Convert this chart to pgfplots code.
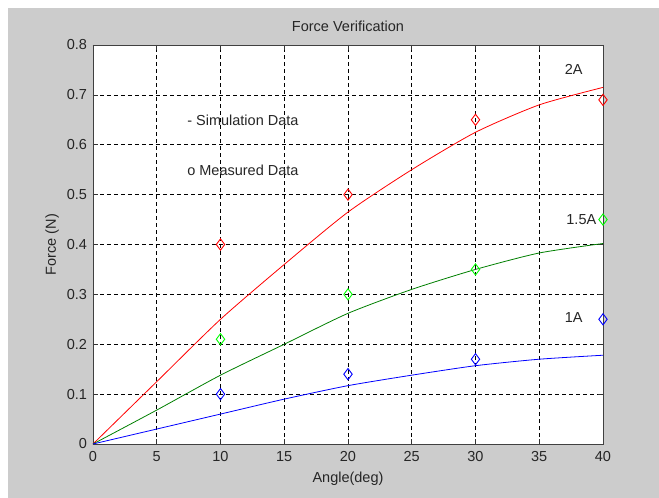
\documentclass[border=0pt]{standalone}
\usepackage{pgfplots}
\pgfplotsset{compat=1.18}
\usepackage{fontspec}
\setmainfont{Liberation Sans}
\definecolor{figgray}{HTML}{CCCCCC}
\definecolor{simgreen}{rgb}{0,0.5,0}
\definecolor{measgreen}{rgb}{0,1,0}

\begin{document}
\fontsize{14.5}{17}\selectfont
\begin{tikzpicture}
% figure window: white strip top/left, gray panel
\fill[white] (-93pt,-54pt) rectangle (566pt,444pt);
\fill[figgray] (-85pt,-54pt) rectangle (566pt,436pt);
\begin{axis}[
  at={(0pt,0pt)}, anchor=south west,
  scale only axis, width=510pt, height=399pt,
  xmin=0, xmax=40, ymin=0, ymax=0.8,
  xtick={0,5,...,40},
  xticklabels={0,5,10,15,20,25,30,35,40},
  ytick={0,0.1,0.2,0.3,0.4,0.5,0.6,0.7,0.8},
  yticklabels={0,0.1,0.2,0.3,0.4,0.5,0.6,0.7,0.8},
  tick label style={font=\fontsize{14.5}{17}\selectfont, text=black!85},
  xticklabel style={yshift=-2pt},
  yticklabel style={xshift=-1pt},
  tick align=inside, major tick length=5pt,
  tick style={black!80, line width=0.6pt},
  axis line style={black!75, line width=0.9pt},
  axis background/.style={fill=white},
  grid=major,
  major grid style={black, line width=0.6pt, dash pattern=on 4pt off 3pt},
  clip=false,
  meas/.style={only marks, mark=diamond, mark size=5.6pt,
    mark options={line width=0.9pt}},
]
% simulation curves
\addplot[red, line width=0.8pt, no marks, smooth, tension=0.4] coordinates {
  (0,0) (5,0.125) (10,0.25) (15,0.36) (20,0.465) (25,0.55) (30,0.625) (35,0.68) (40,0.715)};
\addplot[simgreen, line width=0.8pt, no marks, smooth, tension=0.4] coordinates {
  (0,0) (5,0.068) (10,0.138) (15,0.20) (20,0.262) (25,0.31) (30,0.35) (35,0.383) (40,0.402)};
\addplot[blue, line width=0.8pt, no marks, smooth, tension=0.4] coordinates {
  (0,0) (5,0.03) (10,0.06) (15,0.09) (20,0.117) (25,0.138) (30,0.157) (35,0.17) (40,0.178)};
% measured points
\addplot[red, meas] coordinates {(10,0.40) (20,0.50) (30,0.65) (40,0.69)};
\addplot[measgreen, meas] coordinates {(10,0.21) (20,0.30) (30,0.35) (40,0.45)};
\addplot[blue, meas] coordinates {(10,0.10) (20,0.14) (30,0.17) (40,0.25)};
% annotations
\node[anchor=west, text=black!85] at (axis cs:7.0,0.648) {- Simulation Data};
\node[anchor=west, text=black!85] at (axis cs:7.0,0.548) {o Measured Data};
\node[text=black!85] at (axis cs:37.7,0.75) {2A};
\node[text=black!85] at (axis cs:38.3,0.449) {1.5A};
\node[text=black!85] at (axis cs:37.7,0.253) {1A};
% title and axis labels
\node[text=black!85] at ([yshift=19pt]rel axis cs:0.5,1) {Force Verification};
\node[text=black!85] at ([yshift=-35pt]rel axis cs:0.5,0) {Angle(deg)};
\node[text=black!85, rotate=90] at ([xshift=-41pt]rel axis cs:0,0.5) {Force (N)};
\end{axis}
\end{tikzpicture}
\end{document}
